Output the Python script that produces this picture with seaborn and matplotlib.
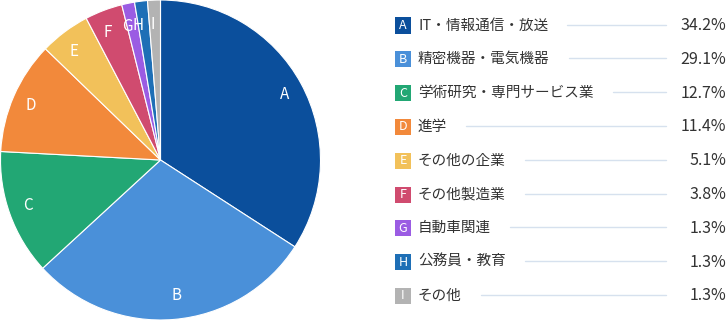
import matplotlib
matplotlib.use("Agg")
import matplotlib.pyplot as plt
import seaborn as sns

letters = ["A", "B", "C", "D", "E", "F", "G", "H", "I"]
categories = ["IT・情報通信・放送", "精密機器・電気機器", "学術研究・専門サービス業", "進学",
              "その他の企業", "その他製造業", "自動車関連", "公務員・教育", "その他"]
values = [34.2, 29.1, 12.7, 11.4, 5.1, 3.8, 1.3, 1.3, 1.3]
pct_labels = ["34.2%", "29.1%", "12.7%", "11.4%", "5.1%", "3.8%", "1.3%", "1.3%", "1.3%"]
colors = ["#0B4F9C", "#4A90D9", "#22A774", "#F2893B", "#F2C15A",
          "#D04B6F", "#9B5CE3", "#1E6FB6", "#B3B3B3"]

sns.set_theme(style="white")
plt.rcParams['font.family'] = ['Noto Sans CJK JP', 'DejaVu Sans']
palette = sns.color_palette(colors)

W, H = 727, 320
fig = plt.figure(figsize=(W / 100, H / 100), dpi=100)
ax = fig.add_axes([0, 0, 321 / W, 1])
wedges, texts = ax.pie(values, colors=palette, startangle=90, counterclock=False,
                       labels=letters, labeldistance=0.85,
                       wedgeprops=dict(edgecolor="white", linewidth=0.8),
                       textprops=dict(color="white", fontsize=11))
ax.set_aspect("equal")
ax.set_xlim(-1.0, 1.0)
ax.set_ylim(-1.0, 1.0)

def fx(x):
    return x / W

def fy(y):
    return 1 - y / H

row0, step = 25.5, 33.8
sq = 16
fig.canvas.draw()
renderer = fig.canvas.get_renderer()
for i, (let, cat, pct, col) in enumerate(zip(letters, categories, pct_labels, palette)):
    yc = row0 + i * step
    fig.patches.append(plt.Rectangle((fx(395), fy(yc + sq / 2)), sq / W, sq / H,
                                     transform=fig.transFigure, facecolor=col,
                                     edgecolor="none"))
    fig.text(fx(395 + sq / 2), fy(yc), let, color="white", fontsize=9,
             ha="center", va="center")
    t = fig.text(fx(418), fy(yc), cat, color="#333333", fontsize=10.5,
                 ha="left", va="center")
    bb = t.get_window_extent(renderer=renderer)
    x_end = bb.x1
    fig.add_artist(plt.Line2D([fx(x_end + 19), fx(666)], [fy(yc - 1), fy(yc - 1)],
                              transform=fig.transFigure, color="#D6E1EE", lw=1))
    fig.text(fx(726), fy(yc), pct, color="#333333", fontsize=11.5,
             ha="right", va="center")

fig.savefig("out.png", dpi=100)
